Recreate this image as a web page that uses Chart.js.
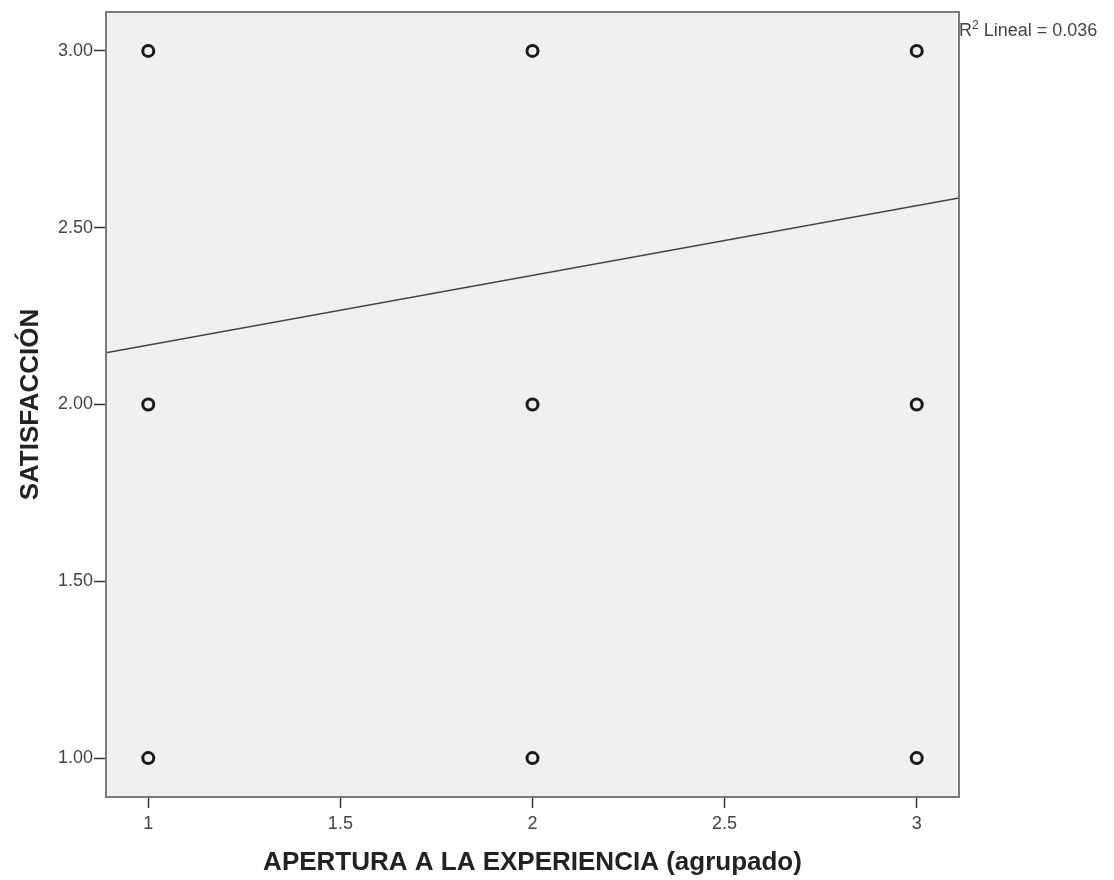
<!DOCTYPE html>
<html>
<head>
<meta charset="utf-8">
<script src="https://cdn.jsdelivr.net/npm/chart.js@4.4.1/dist/chart.umd.min.js"></script>
<style>
  html, body { margin: 0; padding: 0; background: #ffffff; }
  #wrap { position: relative; width: 1114px; height: 880px; }
</style>
</head>
<body>
<div id="wrap"><canvas id="scatter"></canvas></div>
<script>
// observed points (APERTURA agrupado vs SATISFACCIÓN)
const apertura = [1, 1, 1, 2, 2, 2, 3, 3, 3];
const satisfaccion = [3, 2, 1, 3, 2, 1, 3, 2, 1];

// fit line endpoints at the plot edges
const fitX = [0.89, 3.11];
const fitY = [2.146, 2.584];
const rSquaredLabel = 'Lineal = 0.036';

const xTicks = [1, 1.5, 2, 2.5, 3];
const yTicks = [1, 1.5, 2, 2.5, 3];

const FONT = '"Liberation Sans", Arial, sans-serif';

// plot background + frame + R2 note
const framePlugin = {
  id: 'frame',
  beforeDraw(chart) {
    const { ctx, chartArea: a } = chart;
    ctx.save();
    ctx.fillStyle = '#f0f0f0';
    ctx.fillRect(a.left, a.top, a.right - a.left, a.bottom - a.top);
    ctx.restore();
  },
  afterDraw(chart) {
    const { ctx, chartArea: a } = chart;
    ctx.save();
    ctx.strokeStyle = '#7a7a7a';
    ctx.lineWidth = 2;
    ctx.strokeRect(a.left, a.top, a.right - a.left, a.bottom - a.top);

    // R² label
    ctx.fillStyle = '#444';
    ctx.textBaseline = 'alphabetic';
    ctx.font = '18px ' + FONT;
    const x0 = a.right;
    const y0 = a.top + 24;
    ctx.fillText('R', x0, y0);
    const rw = ctx.measureText('R').width;
    ctx.font = '12px ' + FONT;
    ctx.fillText('2', x0 + rw, y0 - 7);
    const sw = ctx.measureText('2').width;
    ctx.font = '18px ' + FONT;
    ctx.fillText(' ' + rSquaredLabel, x0 + rw + sw, y0);
    ctx.restore();
  }
};

const ctx = document.getElementById('scatter').getContext('2d');
new Chart(ctx, {
  type: 'scatter',
  data: {
    datasets: [
      {
        label: 'fit',
        type: 'line',
        data: fitX.map((x, i) => ({ x: x, y: fitY[i] })),
        borderColor: '#444',
        borderWidth: 1.5,
        pointRadius: 0,
        fill: false,
        order: 2
      },
      {
        label: 'obs',
        data: apertura.map((x, i) => ({ x: x, y: satisfaccion[i] })),
        pointRadius: 5.5,
        pointBorderWidth: 3,
        pointBorderColor: '#1a1a1a',
        pointBackgroundColor: '#f0f0f0',
        order: 1
      }
    ]
  },
  options: {
    responsive: true,
    maintainAspectRatio: false,
    animation: false,
    layout: { padding: { top: 12, right: 155, left: 0, bottom: 0 } },
    plugins: {
      legend: { display: false },
      tooltip: { enabled: false }
    },
    scales: {
      x: {
        type: 'linear',
        min: 0.89,
        max: 3.11,
        afterBuildTicks: (scale) => { scale.ticks = xTicks.map(v => ({ value: v })); },
        afterFit: (scale) => { scale.height = 83; },
        grid: { drawOnChartArea: false, drawTicks: true, tickLength: 11, tickColor: '#333', tickWidth: 1.5 },
        border: { display: false },
        ticks: {
          color: '#444',
          padding: 5,
          font: { family: FONT, size: 18 },
          callback: (v) => String(v)
        },
        title: {
          display: true,
          text: 'APERTURA A LA EXPERIENCIA (agrupado)',
          color: '#222',
          font: { family: FONT, size: 26, weight: 'bold' },
          padding: { top: 0, bottom: 2 }
        }
      },
      y: {
        type: 'linear',
        min: 0.89,
        max: 3.11,
        afterBuildTicks: (scale) => { scale.ticks = yTicks.map(v => ({ value: v })); },
        afterFit: (scale) => { scale.width = 106; },
        grid: { drawOnChartArea: false, drawTicks: true, tickLength: 12, tickColor: '#333', tickWidth: 1.5 },
        border: { display: false },
        ticks: {
          color: '#444',
          padding: 1,
          font: { family: FONT, size: 18 },
          callback: (v) => Number(v).toFixed(2)
        },
        title: {
          display: true,
          text: 'SATISFACCIÓN',
          color: '#222',
          font: { family: FONT, size: 26, weight: 'bold' },
          padding: { top: 15, bottom: 0 }
        }
      }
    }
  },
  plugins: [framePlugin]
});
</script>
</body>
</html>
